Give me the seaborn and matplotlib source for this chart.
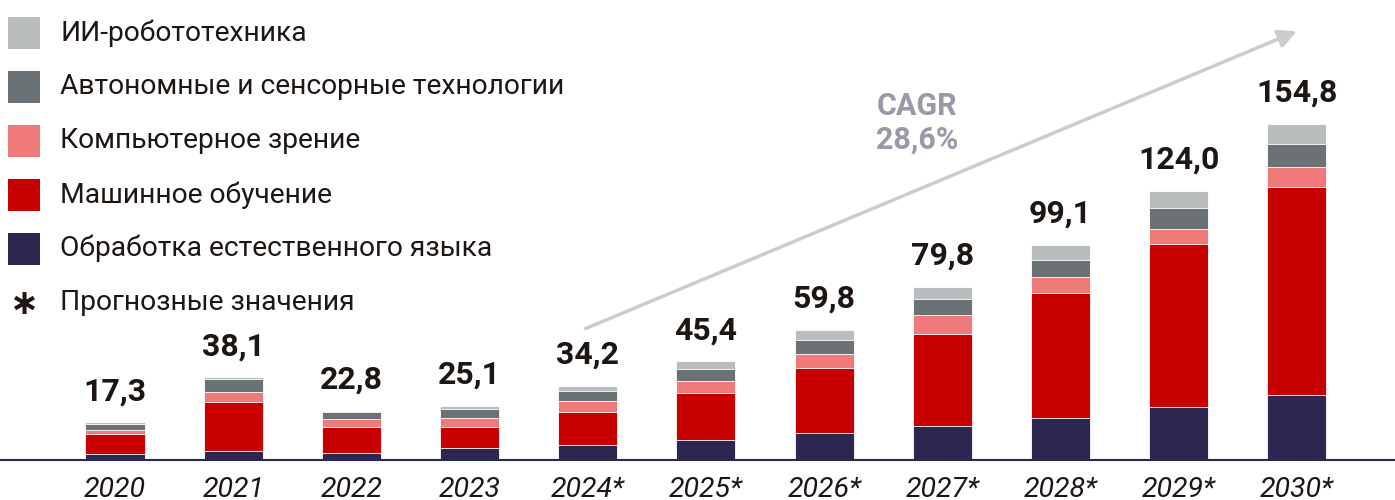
import numpy as np
import pandas as pd
import seaborn as sns
import matplotlib.pyplot as plt
from matplotlib.patches import Rectangle

sns.set_style('white')
plt.rcParams['font.family'] = ['Roboto', 'DejaVu Sans']

# data (bln USD), segments from bottom to top
years = ['2020', '2021', '2022', '2023', '2024*', '2025*', '2026*', '2027*', '2028*', '2029*', '2030*']
nlp = [2.6, 4.0, 3.2, 5.6, 6.9, 9.4, 12.3, 15.7, 19.5, 24.6, 29.9]
ml = [9.5, 22.9, 12.0, 9.6, 15.3, 21.4, 30.1, 42.3, 57.2, 75.1, 96.0]
cv = [1.8, 4.5, 3.5, 4.3, 4.8, 5.5, 6.3, 8.8, 7.6, 6.9, 9.1]
auto = [2.9, 6.1, 3.2, 3.8, 4.9, 5.7, 6.5, 7.5, 8.0, 9.4, 10.4]
robo = [0.5, 0.6, 0.9, 1.8, 2.3, 3.4, 4.6, 5.5, 6.8, 8.0, 9.4]
totals = [17.3, 38.1, 22.8, 25.1, 34.2, 45.4, 59.8, 79.8, 99.1, 124.0, 154.8]

series = ['Обработка естественного языка', 'Машинное обучение', 'Компьютерное зрение',
          'Автономные и сенсорные технологии', 'ИИ-робототехника']
colors = ['#2d2650', '#c80000', '#f07a7a', '#6b7275', '#b9bdbe']
text_color = '#1e1612'

df = pd.DataFrame({'year': years, series[0]: nlp, series[1]: ml, series[2]: cv,
                   series[3]: auto, series[4]: robo})
cum = df[series].cumsum(axis=1)

fig = plt.figure(figsize=(13.95, 5), dpi=100)
ax = fig.add_axes([0, 0.08, 1, 0.92])

# stacked bars: draw cumulative heights from the top down
for s, c in reversed(list(zip(series, colors))):
    sns.barplot(x=df['year'], y=cum[s], color=c, width=0.5, saturation=1,
                edgecolor='white', linewidth=0.6, ax=ax)

# totals above bars
for i, t in enumerate(totals):
    ax.annotate(f'{t:.1f}'.replace('.', ','), (i, t), xytext=(0, 16), textcoords='offset points',
                ha='center', va='baseline', fontsize=23, fontweight='bold', color=text_color)

# CAGR arrow
ax.annotate('', xy=(10.0, 197.5), xytext=(3.98, 60.5),
            arrowprops=dict(arrowstyle='-|>,head_length=1.1,head_width=0.55', color='#cccccc',
                            lw=2.5, shrinkA=0, shrinkB=0))
ax.text(6.79, 163, 'CAGR', ha='center', va='center', fontsize=22, fontweight='bold', color='#9a99a8')
ax.text(6.79, 147.5, '28,6%', ha='center', va='center', fontsize=22, fontweight='bold', color='#9a99a8')

ax.set_xlim(-0.973, 10.83)
ax.set_ylim(0, 211.9)
ax.set_xlabel('')
ax.set_ylabel('')
ax.set_yticks([])
sns.despine(ax=ax, left=True, top=True, right=True)
ax.spines['bottom'].set_color('#2d2650')
ax.spines['bottom'].set_linewidth(1.5)
ax.tick_params(axis='x', length=0, pad=12, labelsize=20.5, labelcolor=text_color)
for lbl in ax.get_xticklabels():
    lbl.set_fontstyle('italic')

# legend drawn manually in figure pixels
W, H = 1395, 500
legend_rows = [33, 87, 141, 195, 248.5]
for name, c, yc in zip(reversed(series), reversed(colors), legend_rows):
    fig.add_artist(Rectangle((8 / W, 1 - (yc + 16) / H), 32 / W, 32 / H,
                             transform=fig.transFigure, color=c, lw=0))
    fig.text(60 / W, 1 - yc / H, name, ha='left', va='center', fontsize=20.3, color=text_color)
fig.text(24 / W, 1 - 304 / H, '∗', ha='center', va='center', fontsize=25, fontweight='bold',
         color=text_color, family=['DejaVu Sans'])
fig.text(60 / W, 1 - 302 / H, 'Прогнозные значения', ha='left', va='center', fontsize=20.3,
         color=text_color)

fig.savefig('out.png', dpi=100)
